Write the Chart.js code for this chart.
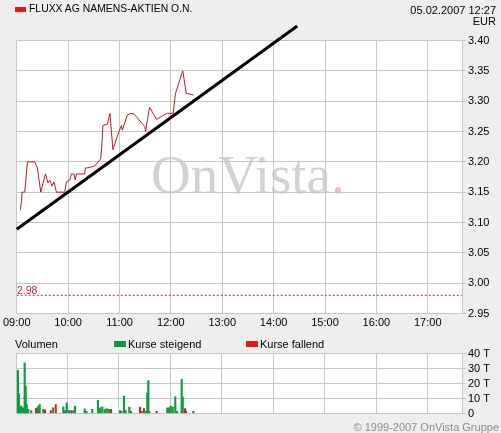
<!DOCTYPE html>
<html lang="de">
<head>
  <meta charset="UTF-8">
  <title>FLUXX AG NAMENS-AKTIEN O.N.</title>

  <script src="https://cdn.jsdelivr.net/npm/chart.js"></script>

  <style>
    html, body { margin: 0; padding: 0; }
    body { width: 501px; height: 433px; background: #eeeeee; position: relative; overflow: hidden;
           font-family: 'Liberation Sans', Arial, sans-serif; font-size: 11px; color: #000; }
    .abs { position: absolute; white-space: nowrap; line-height: 12px; }
    .plotbg { position: absolute; background: #fff; }
    canvas { position: absolute; left: 0; top: 0; }
    .key { position: absolute; }
    #watermark { position: absolute; left: 151px; top: 147px; font-family: 'Liberation Serif', serif;
                 font-size: 55px; line-height: 55px; color: #d2d2d2; white-space: nowrap; }
    #watermark span { color: #f1bccb; }
  </style>
</head>
<body>
  <div id="priceBg" class="plotbg"></div>
  <div id="volBg" class="plotbg"></div>
  <div id="watermark">OnVista<span>.</span></div>

  <canvas id="priceChart" width="501" height="433"></canvas>
  <canvas id="volChart" width="501" height="433"></canvas>

  <div class="key" style="left:15px; top:7px; width:11px; height:5px; background:#e01b1b;"></div>
  <div class="abs" style="left:29px; top:3px; font-size:10.4px;">FLUXX AG NAMENS-AKTIEN O.N.</div>
  <div class="abs" style="right:5px; top:4px;">05.02.2007 12:27</div>
  <div class="abs" style="right:5px; top:15px;">EUR</div>
  <div class="abs" style="left:17px; top:284px; color:#c8283a; font-size:10.5px;">2.98</div>

  <div class="abs" style="left:15px; top:338px;">Volumen</div>
  <div class="key" style="left:114px; top:341px; width:12px; height:6px; background:#129a3e;"></div>
  <div class="abs" style="left:128px; top:338px;">Kurse steigend</div>
  <div class="key" style="left:246px; top:341px; width:12px; height:6px; background:#e01b1b;"></div>
  <div class="abs" style="left:260px; top:338px;">Kurse fallend</div>
  <div class="abs" style="right:2px; top:421px; color:#8c8c8c;">© 1999-2007 OnVista Gruppe</div>

  <script type="text/javascript">
    // minutes after 09:00
    const priceTimes = [4.3, 5.5, 6.2, 9.3, 12.5, 21, 24.1, 28, 33.5, 36.5, 38.5, 41.2, 43.5, 46.3, 56,
      58, 61.8, 63.8, 66.8, 68.4, 69.6, 79.3, 80.1, 82.4, 91, 98, 99.5, 100.6, 105.8, 108.8,
      112.3, 119.3, 122.4, 123.2, 129.1, 132.9, 136.8, 149.6, 150.4, 155.1, 163.2, 175.7, 182.7, 185.4, 193.9,
      197.9, 206.7];
    const priceValues = [3.12, 3.135, 3.15, 3.15, 3.20, 3.20, 3.19, 3.15, 3.18, 3.165, 3.17, 3.16, 3.167, 3.15, 3.15,
      3.167, 3.17, 3.18, 3.18, 3.17, 3.18, 3.18, 3.19, 3.19, 3.193, 3.205, 3.23, 3.26, 3.262, 3.28,
      3.22, 3.25, 3.26, 3.252, 3.277, 3.28, 3.279, 3.258, 3.25, 3.29, 3.27, 3.28, 3.28, 3.313, 3.35,
      3.313, 3.31];

    const trendTimes = [0, 327.6];
    const trendValues = [3.089, 3.424];
    const prevClose = 2.98;

    const volUpTimes = [2.3, 3.5, 4.7, 6.2, 8.2, 10.1, 11.3, 12.5, 14.3, 17.8, 26, 27.6, 31.8, 43.1, 55.2,
      57.1, 59.1, 61.8, 66.8, 68.8, 80.1, 82, 89, 95.6, 97.9, 100.6, 103.4, 105.8, 108.4, 121.3,
      122.8, 125.9, 127.9, 132.1, 134.1, 146.6, 150.4, 153.1, 154.3, 155.4, 176.4, 178.4, 180.4, 182.7, 185.7,
      187.7, 193.2, 194.4, 206.7];
    const volUp = [28700, 13100, 4900, 4900, 3800, 33800, 18200, 6000, 2700, 2000, 4900, 6000, 2700, 3800, 4400,
      2000, 7100, 2000, 2000, 4900, 3100, 1500, 2700, 8700, 3800, 4400, 2700, 3300, 2700, 2000,
      1500, 11600, 2000, 4200, 1500, 1500, 1500, 13800, 22000, 1500, 3800, 3800, 4900, 4200, 11100,
      1500, 22700, 10900, 1500];
    const volDownTimes = [23.3, 24.8, 33.8, 40.5, 46.3, 64.5, 110.8, 144.6, 149.2, 152.4, 164, 197, 198.2];
    const volDown = [3300, 3800, 2500, 2000, 6000, 2000, 2700, 4200, 3300, 1500, 1500, 3300, 1500];

    const dayMinutes = 520;   // 09:00 - 17:40
    const priceTicks = { min: 2.95, max: 3.40, step: 0.05 };
    const volTicks = { min: 0, max: 40000, step: 10000 };

    const pts = (xs, ys) => xs.map((x, i) => ({ x: x, y: ys[i] }));
    const hourLabel = v => String(9 + v / 60).padStart(2, '0') + ':00';

    Chart.defaults.font.family = "'Liberation Sans', Arial, sans-serif";
    Chart.defaults.font.size = 11;
    Chart.defaults.color = '#000';

    const gridColor = '#c6c6c6';

    // white plot area behind the transparent canvas
    const plotBg = {
      id: 'plotBg',
      afterLayout(chart, args, opts) {
        const a = chart.chartArea, el = document.getElementById(opts.el);
        el.style.left = a.left + 'px';
        el.style.top = a.top + 'px';
        el.style.width = (a.right - a.left) + 'px';
        el.style.height = (a.bottom - a.top) + 'px';
      }
    };

    const xAxis = (showLabels, height) => ({
      type: 'linear', min: 0, max: dayMinutes, offset: false,
      grid: { color: gridColor, drawTicks: false, offset: false },
      border: { color: gridColor },
      ticks: { display: showLabels, stepSize: 60, includeBounds: false, padding: 3, maxRotation: 0,
               autoSkip: false, callback: hourLabel },
      afterFit: s => { s.height = height; }
    });

    const yAxis = (range, fmt) => ({
      position: 'right', min: range.min, max: range.max,
      grid: { color: gridColor, tickLength: 4 },
      border: { color: gridColor },
      ticks: { stepSize: range.step, padding: 2, autoSkip: false, callback: fmt },
      afterFit: s => { s.width = 39; }
    });

    new Chart(document.getElementById('priceChart'), {
      type: 'line',
      data: {
        datasets: [
          { data: pts(trendTimes, trendValues), borderColor: '#000', borderWidth: 3, clip: false },
          { data: pts(priceTimes, priceValues), borderColor: '#be1a24', borderWidth: 1 },
          { data: pts([0, dayMinutes], [prevClose, prevClose]), borderColor: '#c8283a', borderWidth: 1,
            borderDash: [2, 2] }
        ]
      },
      options: {
        responsive: false, devicePixelRatio: 1, animation: false,
        layout: { padding: { top: 40.5, left: 16, right: 0, bottom: 0 } },
        elements: { point: { radius: 0 }, line: { tension: 0 } },
        plugins: { legend: { display: false }, tooltip: { enabled: false }, plotBg: { el: 'priceBg' } },
        scales: {
          x: xAxis(true, 119.5),
          y: yAxis(priceTicks, v => v.toFixed(2))
        }
      },
      plugins: [plotBg]
    });

    new Chart(document.getElementById('volChart'), {
      type: 'bar',
      data: {
        datasets: [
          { data: pts(volUpTimes, volUp), backgroundColor: '#129a3e' },
          { data: pts(volDownTimes, volDown), backgroundColor: '#e01b1b' }
        ]
      },
      options: {
        responsive: false, devicePixelRatio: 1, animation: false,
        layout: { padding: { top: 353.5, left: 16, right: 0, bottom: 0 } },
        datasets: { bar: { barThickness: 1.5, grouped: false } },
        plugins: { legend: { display: false }, tooltip: { enabled: false }, plotBg: { el: 'volBg' } },
        scales: {
          x: xAxis(false, 19.5),
          y: yAxis(volTicks, v => v === 0 ? '0' : (v / 1000) + ' T')
        }
      },
      plugins: [plotBg]
    });
  </script>
</body>
</html>
